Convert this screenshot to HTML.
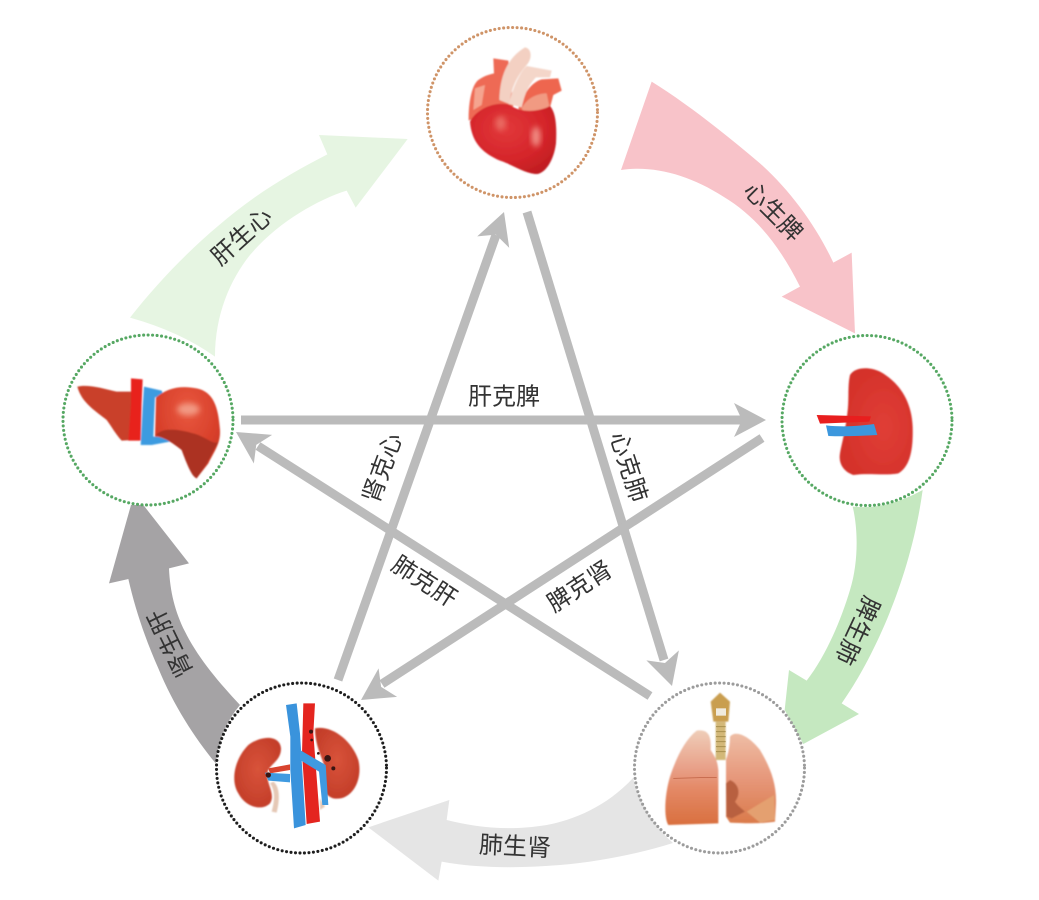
<!DOCTYPE html>
<html lang="zh">
<head>
<meta charset="utf-8">
<title>五行</title>
<style>
html,body{margin:0;padding:0;background:#fff;width:1039px;height:900px;overflow:hidden}
svg{display:block}
text{font-family:"Liberation Sans","Noto Sans CJK SC",sans-serif;font-size:24px;fill:#333;text-anchor:middle;dominant-baseline:central}
</style>
</head>
<body>
<svg width="1039" height="900" viewBox="0 0 1039 900" xmlns="http://www.w3.org/2000/svg">
<defs>
<filter id="s" x="-5%" y="-5%" width="110%" height="110%"><feGaussianBlur stdDeviation="2.2"/></filter>
<filter id="b" x="-30%" y="-30%" width="160%" height="160%"><feGaussianBlur stdDeviation="9"/></filter>
<radialGradient id="hv" cx=".42" cy=".35" r=".75"><stop offset="0" stop-color="#e2383a"/><stop offset=".6" stop-color="#d5252a"/><stop offset="1" stop-color="#bd1c20"/></radialGradient>
<radialGradient id="lv" cx=".5" cy=".25" r=".8"><stop offset="0" stop-color="#e8583f"/><stop offset=".6" stop-color="#d83f2a"/><stop offset="1" stop-color="#c03622"/></radialGradient>
<radialGradient id="sp" cx=".6" cy=".55" r=".7"><stop offset="0" stop-color="#e03e36"/><stop offset="1" stop-color="#d22f28"/></radialGradient>
<radialGradient id="kd" cx=".5" cy=".45" r=".6"><stop offset="0" stop-color="#d8533a"/><stop offset="1" stop-color="#c23c28"/></radialGradient>
<linearGradient id="lu" x1="0" y1="0" x2="0" y2="1"><stop offset="0" stop-color="#efcdb8"/><stop offset=".4" stop-color="#e8a088"/><stop offset=".6" stop-color="#e48a68"/><stop offset="1" stop-color="#d96f3e"/></linearGradient>
<linearGradient id="lr" x1="0" y1="0" x2="0" y2="1"><stop offset="0" stop-color="#eebda5"/><stop offset=".5" stop-color="#e6977a"/><stop offset="1" stop-color="#da7a4a"/></linearGradient>
</defs>

<!-- generating arrows -->
<path transform="translate(610 70) scale(.33333)" fill="#f8c3c9" d="M125 35C230 100 350 195 450 280C540 360 620 470 670 578L725 548L735 790L515 680L570 650C510 530 440 440 340 380C240 315 130 285 33 300Z"/>
<path transform="translate(120 125) scale(.33333)" fill="#e6f5e2" d="M30 578C130 450 260 320 400 220C470 170 550 125 622 88L597 30L863 42L707 248L680 197C590 225 470 295 390 390C330 465 285 570 285 695Q180 620 30 578Z"/>
<path transform="translate(770 490) scale(.33333)" fill="#c5e8c0" d="M248 50C265 120 265 220 240 300C210 400 165 500 110 572L57 540L44 660L100 762L267 672L215 640C300 520 420 280 458 0Q350 60 248 50Z"/>
<path transform="translate(360 770) scale(.33333)" fill="#e5e5e5" d="M819 24C740 110 640 150 560 165C440 185 340 170 260 150L268 90L25 172L235 332L245 275C350 295 480 295 600 285C720 275 840 250 939 219Q850 140 819 24Z"/>
<path transform="translate(95 495) scale(.33333)" fill="#a5a3a5" d="M100 252C120 340 150 430 190 520C235 630 300 730 362 805Q375 700 435 630C370 560 310 490 270 410C240 350 225 290 222 220L282 205L145 30L108 30L42 265Z"/>

<!-- star lines -->
<g stroke="#bbbbbb" stroke-width="9" fill="none">
<line x1="241" y1="420" x2="745" y2="420"/>
<line x1="338" y1="680" x2="496" y2="235"/>
<line x1="527" y1="212" x2="664" y2="660"/>
<line x1="650" y1="696" x2="258" y2="446"/>
<line x1="762" y1="438" x2="382" y2="684"/>
</g>
<g fill="#bbbbbb">
<polygon transform="translate(766 420)" points="0,0 -32,-17 -24,0 -32,17"/>
<polygon transform="translate(504 212) rotate(-70.3)" points="0,0 -32,-17 -24,0 -32,17"/>
<polygon transform="translate(672 686) rotate(73)" points="0,0 -32,-17 -24,0 -32,17"/>
<polygon transform="translate(236 432) rotate(212.5)" points="0,0 -32,-17 -24,0 -32,17"/>
<polygon transform="translate(361 700) rotate(147)" points="0,0 -32,-17 -24,0 -32,17"/>
</g>

<!-- circles -->
<g fill="#fff" stroke-width="3.1" stroke-linecap="round" stroke-dasharray="0 4.5">
<circle cx="512.5" cy="112.5" r="85" stroke="#cf9468"/>
<circle cx="148" cy="420" r="85" stroke="#56a863"/>
<circle cx="867" cy="420.5" r="85" stroke="#56a863"/>
<circle cx="301.5" cy="768" r="85" stroke="#1e1e1e"/>
<circle cx="719.5" cy="768" r="85" stroke="#9c9c9c"/>
</g>

<!-- heart -->
<g transform="translate(410 30) scale(.33333)">
<g filter="url(#s)">
<path fill="#ee6a55" d="M176 272C175 220 185 165 205 150C225 135 245 132 252 130L250 85L295 92L310 230L220 250Z"/>
<path fill="#ee6650" d="M325 235C345 180 370 155 395 148L445 145L455 182L430 195L420 232C400 248 370 258 350 262Z"/>
<path fill="#f5a48f" d="M190 240L195 175L225 165L215 225Z"/>
<path fill="#f3d0c2" d="M268 210C270 140 290 85 345 52C365 55 368 85 350 105C325 135 305 165 298 222Z"/>
<path fill="#f4d6c9" d="M296 222C310 170 330 125 350 108L425 122L420 142L378 142C350 170 342 205 335 232Z"/>
<path fill="#f19a82" d="M335 235C350 205 380 190 410 190L418 228C395 245 365 255 350 262Z"/>
<path fill="url(#hv)" d="M180 275C200 235 260 212 300 225C340 255 400 240 420 228C440 250 440 300 438 340C430 400 400 435 375 432C340 428 310 405 270 392C220 370 185 340 180 275Z"/>
</g>
<ellipse cx="272" cy="280" rx="16" ry="22" fill="#ea6a62" filter="url(#b)"/>
<ellipse cx="378" cy="320" rx="14" ry="30" fill="#f08a82" filter="url(#b)"/>
</g>

<!-- liver -->
<g transform="translate(50 320) scale(.33333)">
<g filter="url(#s)">
<path fill="#c9402a" d="M82 200C110 192 160 205 200 215L245 215L250 360L215 362C195 340 185 320 170 300C140 275 95 250 82 200Z"/>
<path fill="#e8201f" d="M243 175L278 178L275 250L272 362L235 362L243 250Z"/>
<path fill="#3c9be0" d="M282 200L335 212L340 225L315 232L310 350L365 350L360 365L305 375L272 375L278 260Z"/>
<path fill="url(#lv)" d="M318 232C350 205 390 195 440 205C490 215 505 260 510 330C512 370 495 390 475 430L440 475C425 470 410 430 395 390C370 370 340 350 315 350Z"/>
<path fill="#ac3220" d="M318 345C340 318 400 330 445 345C480 360 495 375 505 365L470 430L440 475C425 470 410 430 395 390C370 370 340 350 318 345Z"/>
</g>
<ellipse cx="415" cy="268" rx="34" ry="18" fill="#f29a84" filter="url(#b)"/>
</g>

<!-- spleen -->
<g transform="translate(770 320) scale(.33333)">
<g filter="url(#s)">
<path fill="url(#sp)" d="M240 165C255 140 300 140 330 155C385 185 425 240 428 320C430 390 420 440 385 460C340 468 300 458 250 465C220 455 205 430 210 400C215 370 225 340 232 280C238 240 232 200 240 165Z"/>
</g>
<path fill="#e81e1e" d="M140 285L303 289L298 305L150 311Z"/>
<path fill="#3c97dd" d="M168 316C220 322 270 318 312 312L322 345C270 348 220 350 175 348Z"/>
</g>

<!-- kidneys -->
<g transform="translate(205 670) scale(.33333)">
<g filter="url(#s)">
<path fill="url(#kd)" d="M130 225C170 195 225 195 228 235C228 270 200 280 190 300C175 330 215 370 195 400C170 425 120 410 100 370C75 330 90 265 130 225Z"/>
<path fill="url(#kd)" d="M330 175C380 165 440 210 460 270C475 330 440 395 385 385C355 375 340 340 355 320C375 290 330 250 330 175Z"/>
<path fill="#e5c8b5" d="M205 335C225 350 225 390 215 428L200 425C210 390 210 360 195 340Z"/>
<path fill="#e5c8b5" d="M345 385L360 410L345 420Z"/>
</g>
<path fill="#d8432e" d="M190 295L255 283L255 300L195 310Z"/>
<path fill="#3f9ae0" d="M180 308L255 312L255 337L190 332Z"/>
<path fill="#e4251f" d="M295 100L330 100L325 190L345 455L305 462L291 250Z"/>
<path fill="#3a93dc" d="M243 105L275 100L285 190L302 465L267 475L256 300L256 200Z"/>
<path fill="#3f9ae0" d="M285 240L362 285L370 405L352 405L342 305L285 270Z"/>
<g fill="#3a1512"><circle cx="190" cy="315" r="8"/><circle cx="318" cy="185" r="6"/><circle cx="368" cy="265" r="10"/><circle cx="340" cy="250" r="4"/><circle cx="385" cy="295" r="6"/><circle cx="320" cy="210" r="4"/></g>
</g>

<!-- lungs -->
<g transform="translate(620 670) scale(.33333)">
<g filter="url(#s)">
<path fill="#c99e50" d="M272 95L300 68L330 95L325 155L280 155Z"/>
<rect x="287" y="155" width="30" height="115" fill="#d3b878"/>
<path fill="url(#lu)" d="M230 182C260 178 275 190 272 240C285 260 292 270 295 300L295 460L145 465C130 440 135 370 150 320C170 260 195 210 230 182Z"/>
<path fill="url(#lr)" d="M330 200C345 180 385 195 420 240C450 290 470 340 468 400L465 455C420 462 370 460 330 458L318 440L318 270C325 250 330 225 330 200Z"/>
<path fill="#b86040" d="M330 330C355 340 365 370 345 395C355 410 365 415 375 425L335 445L320 440L318 340Z"/>
<path fill="#e4a070" d="M380 425L462 375L465 450L420 458Z"/>
</g>
<rect x="288" y="115" width="30" height="22" fill="#f0ebdf"/>
<path d="M288 170H317M288 185H317M288 200H317M288 215H317M288 230H317M288 245H317" stroke="#a8904f" stroke-width="3"/>
<path d="M160 325L290 322" stroke="#b8583a" stroke-width="2" fill="none"/>
</g>

<!-- labels -->
<text x="504" y="397">肝克脾</text>
<text transform="translate(383 468) rotate(-70)">肾克心</text>
<text transform="translate(628 467) rotate(72)">心克肺</text>
<text transform="translate(424 582) rotate(33)">肺克肝</text>
<text transform="translate(580 587) rotate(-33)">脾克肾</text>
<text transform="translate(242 237) rotate(-42)">肝生心</text>
<text transform="translate(773 212) rotate(45)">心生脾</text>
<text transform="translate(857 630) rotate(115)">脾生肺</text>
<text transform="translate(515 847) rotate(3)">肺生肾</text>
<text transform="translate(171 643) rotate(-116)">肾生肝</text>
</svg>
</body>
</html>
